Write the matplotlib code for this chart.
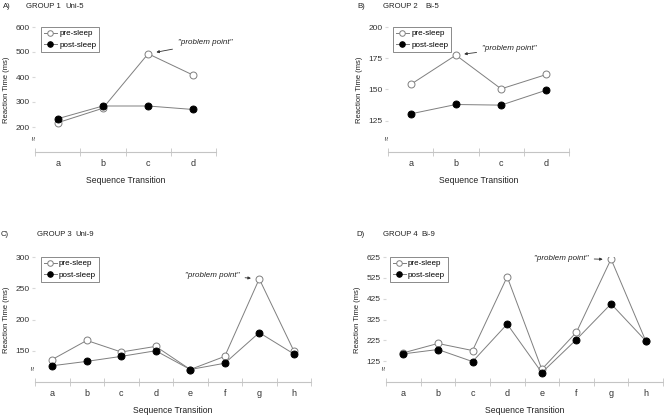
import matplotlib
matplotlib.use('Agg')
import matplotlib.pyplot as plt

plt.rcParams['font.family'] = ['Liberation Sans', 'DejaVu Sans']

# Panel data
cats_4 = ['a', 'b', 'c', 'd']
cats_8 = ['a', 'b', 'c', 'd', 'e', 'f', 'g', 'h']

pre_a = [217, 275, 493, 407]
post_a = [233, 284, 284, 270]

pre_b = [154, 177.5, 150.5, 162]
post_b = [130.5, 138, 137.5, 149.5]

pre_c = [136, 166.5, 148, 157, 120, 141, 265, 150]
post_c = [126, 133, 141, 150, 120, 130, 179, 145]

pre_d = [165, 210, 176, 530, 86, 264, 615, 223]
post_d = [160, 181, 123, 303, 70, 229, 400, 223]

yticks_a = [200, 300, 400, 500, 600]
yticks_b = [125, 150, 175, 200]
yticks_c = [150, 200, 250, 300]
yticks_d = [125, 225, 325, 425, 525, 625]

W, H = 664, 419
fig = plt.figure(figsize=(W / 100, H / 100), dpi=100)

GRAY = '#7f7f7f'
TXT = '#222222'


def px_axes(left, top, right, bottom):
    return fig.add_axes([left / W, 1 - bottom / H, (right - left) / W, (bottom - top) / H])


def fig_text(x, y, s):
    fig.text(x / W, 1 - y / H, s, fontsize=5.6, va='center', ha='left', color=TXT)


def panel(ax, cats, pre, post, ylim, yticks, note_xy, text_xy, leg_x):
    x = list(range(len(cats)))
    ax.plot(x, pre, '-', color=GRAY, lw=0.7, marker='o', ms=5,
            mfc='white', mec=GRAY, mew=0.7, label='pre-sleep', zorder=3)
    ax.plot(x, post, '-', color=GRAY, lw=0.7, marker='o', ms=5,
            mfc='black', mec='black', mew=0.7, label='post-sleep', zorder=4)
    ax.set_xlim(-0.5, len(cats) - 0.5)
    ax.set_ylim(*ylim)
    ax.set_yticks(yticks)
    ax.set_xticks(x)
    ax.set_xticklabels(cats)
    ax.set_xticks([i - 0.5 for i in range(len(cats) + 1)], minor=True)
    for s in ['top', 'right', 'left']:
        ax.spines[s].set_visible(False)
    ax.spines['bottom'].set_color('#c4c4c4')
    ax.spines['bottom'].set_linewidth(0.8)
    ax.tick_params(axis='x', which='major', length=0, pad=5, labelsize=6.5, colors='#333333')
    ax.tick_params(axis='x', which='minor', length=6, direction='inout', color='#c4c4c4', width=0.6)
    ax.tick_params(axis='y', length=2, color='#d8d8d8', labelsize=6, colors='#333333', pad=2)
    ax.set_xlabel('Sequence Transition', fontsize=6.2, labelpad=6, color=TXT)
    ax.set_ylabel('Reaction Time (ms)', fontsize=5.5, color=TXT, labelpad=4)
    leg = ax.legend(loc='upper left', bbox_to_anchor=(leg_x, 1.0), fontsize=5.8,
                    frameon=True, fancybox=False, edgecolor='#555555',
                    borderpad=0.35, handlelength=1.6, handletextpad=0.3,
                    labelspacing=0.45, borderaxespad=0.0, markerscale=0.8)
    leg.get_frame().set_linewidth(0.6)
    # axis break mark
    ax.text(-0.005, 0.11, '≈', transform=ax.transAxes, rotation=90, fontsize=5.5,
            ha='center', va='center', color='#333333')
    ax.annotate('"problem point"', xy=note_xy, xytext=text_xy, fontsize=5.8,
                style='italic', color=TXT, va='center', ha='left',
                arrowprops=dict(arrowstyle='-|>', color='#333333', lw=0.6,
                                mutation_scale=4, shrinkA=2, shrinkB=6))


ax1 = px_axes(35, 27, 216, 152)
panel(ax1, cats_4, pre_a, post_a, (100, 600), yticks_a, (2, 493), (2.66, 536), 0.033)
fig_text(3, 7, 'A)')
fig_text(26, 7, 'GROUP 1')
fig_text(65, 7, 'Uni-5')

ax2 = px_axes(388, 27, 569, 152)
panel(ax2, cats_4, pre_b, post_b, (100, 200), yticks_b, (1, 177.5), (1.58, 183), 0.028)
fig_text(357, 7, 'B)')
fig_text(383, 7, 'GROUP 2')
fig_text(425, 7, 'Bi-5')

ax3 = px_axes(35, 257, 311, 382)
panel(ax3, cats_8, pre_c, post_c, (100, 300), yticks_c, (6, 265), (3.85, 271), 0.021)
fig_text(1, 234, 'C)')
fig_text(37, 234, 'GROUP 3')
fig_text(75, 234, 'Uni-9')

ax4 = px_axes(386, 257, 663, 382)
panel(ax4, cats_8, pre_d, post_d, (25, 625), yticks_d, (6, 613), (3.78, 620), 0.014)
fig_text(356, 234, 'D)')
fig_text(383, 234, 'GROUP 4')
fig_text(421, 234, 'Bi-9')

fig.savefig('out.png', dpi=100)
